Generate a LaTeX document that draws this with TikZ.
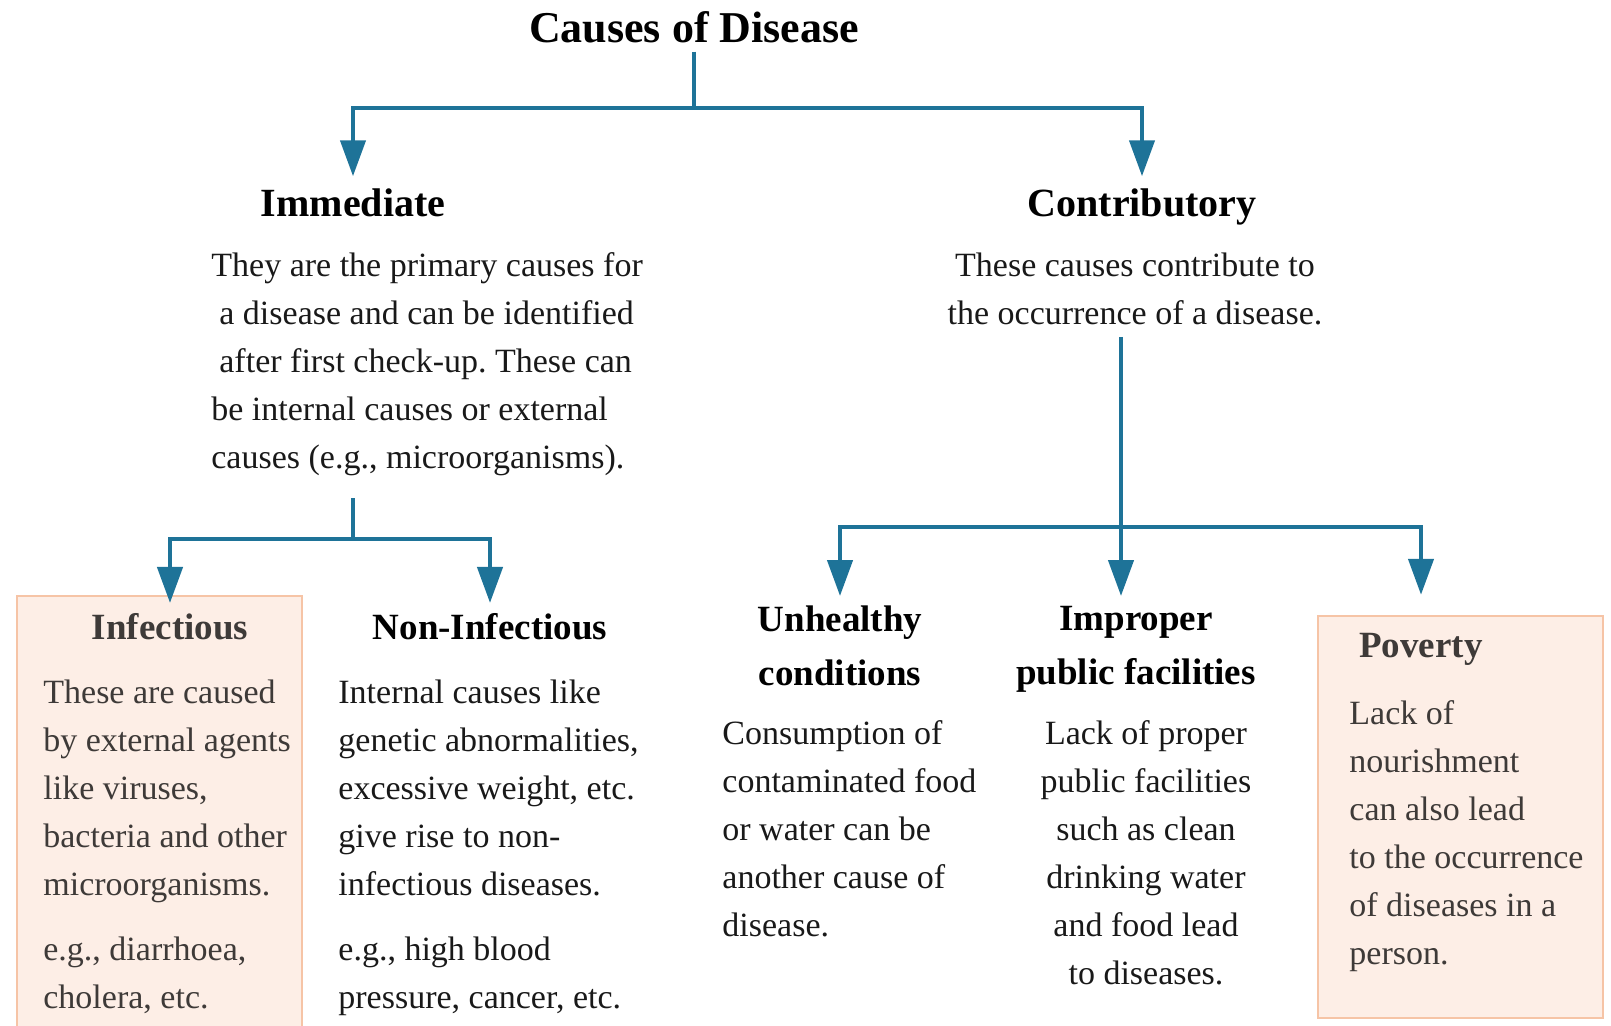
\documentclass[tikz,border=0pt]{standalone}
\usepackage{fontspec}
\setmainfont{Liberation Serif}
\usetikzlibrary{arrows.meta, calc}
\frenchspacing

\definecolor{lineblue}{RGB}{30,115,152}
\definecolor{boxfill}{RGB}{253,238,230}
\definecolor{boxline}{RGB}{246,196,166}
\definecolor{boxtext}{RGB}{62,58,56}
\newcommand{\causeArrow}{{Triangle[length=18pt, width=12.5pt]}}

\tikzset{
	conn/.style={draw=lineblue, line width=2.2pt},
	arr/.style={conn, -\causeArrow},
	desc/.style={font=\fontsize{17}{24}\selectfont, inner sep=0pt, align=left, text=black!90},
	head/.style={font=\bfseries\fontsize{20}{24}\selectfont, inner sep=0pt, outer ysep=6pt},
	subhead/.style={font=\bfseries\fontsize{18.5}{27}\selectfont, inner sep=0pt, outer ysep=5pt, align=center},
	pinkbox/.style={fill=boxfill, draw=boxline, line width=1pt},
}

\begin{document}
\begin{tikzpicture}[x=0.5pt, y=-0.5pt]
	\useasboundingbox (0,0) rectangle (1611,1025);
	
	% boxes
	\draw[pinkbox] (17,596) rectangle (302,1040);
	\draw[pinkbox] (1318,616) rectangle (1603,1018);
	
	% headings
	\node[head, font=\bfseries\fontsize{22}{26}\selectfont, outer ysep=4.5pt, anchor=base] (title) at (694,42) {Causes of Disease};
	\node[head, anchor=base] (imm) at (353,216) {Immediate};
	\node[head, anchor=base] (contr) at (1142,216) {Contributory};
	\node[subhead, text=boxtext, anchor=base] (inf) at (170,639) {Infectious};
	\node[subhead, anchor=base] (noninf) at (490,639) {Non-Infectious};
	\node[subhead, anchor=north] (unh) at (840,596) {Unhealthy\\conditions};
	\node[subhead, anchor=north] (imp) at (1136,596) {Improper\\public facilities};
	\node[subhead, text=boxtext, anchor=base] (povhd) at (1421,657) {Poverty};
	
	% texts
	\node[desc, anchor=north west] (immtxt) at (211,252) {They are the primary causes for\\
		\hspace*{4pt}a disease and can be identified\\
		\hspace*{4pt}after first check-up. These can\\
		be internal causes or external\\
		causes (e.g., microorganisms).};
	\node[desc, align=center, anchor=north] (contrtxt) at (1135,252) {These causes contribute to\\
		the occurrence of a disease.};
	\node[desc, text=boxtext, anchor=north west] (inftxt) at (43,679) {These are caused\\
		by external agents\\
		like viruses,\\
		bacteria and other\\
		microorganisms.\\[8.5pt]
		e.g., diarrhoea,\\
		cholera, etc.};
	\node[desc, anchor=north west] (noninftxt) at (338,679) {Internal causes like\\
		genetic abnormalities,\\
		excessive weight, etc.\\
		give rise to non-\\
		infectious diseases.\\[8.5pt]
		e.g., high blood\\
		pressure, cancer, etc.};
	\node[desc, anchor=north west] (unhtxt) at (722,720) {Consumption of\\
		contaminated food\\
		or water can be\\
		another cause of\\
		disease.};
	\node[desc, align=center, anchor=north] (imptxt) at (1146,720) {Lack of proper\\
		public facilities\\
		such as clean\\
		drinking water\\
		and food lead\\
		to diseases.};
	\node[desc, text=boxtext, anchor=north west] (povtxt) at (1349,700) {Lack of\\
		nourishment\\
		can also lead\\
		to the occurrence\\
		of diseases in a\\
		person.};
	
	% connectors
	\coordinate (split1) at (title.south |- 0,108);
	\draw[conn] (title.south) -- (split1);
	\draw[arr] (split1) -| (imm.north);
	\draw[arr] (split1) -| (contr.north);
	
	\coordinate (split2) at (imm.south |- 0,539);
	\draw[conn, shorten <=11pt] (immtxt.south -| split2) -- (split2);
	\draw[arr] (split2) -| (inf.north);
	\draw[arr] (split2) -| (noninf.north);
	
	\coordinate (split3) at (1121,527);
	\draw[arr, shorten <=6pt] (contrtxt.south -| split3) -- (imp.north -| split3);
	\draw[arr] (split3) -| (unh.north);
	\draw[arr, shorten >=14pt] (split3) -| (povhd.north);
\end{tikzpicture}
\end{document}
